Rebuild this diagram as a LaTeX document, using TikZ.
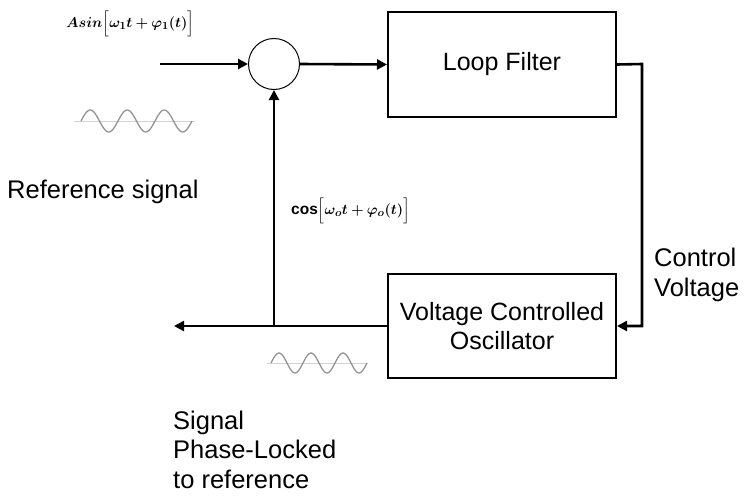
\documentclass[tikz,border=0pt]{standalone}
\usepackage{fontspec}
\setmainfont{Liberation Sans}
\usepackage{amsmath,bm}
\usetikzlibrary{arrows.meta,calc}
\begin{document}
\begin{tikzpicture}[x=1pt,y=-1pt,
  arr/.style={line width=2.6pt,-{Triangle[length=10pt,width=10pt]}},
  blk/.style={draw,line width=2pt,rectangle,minimum width=228pt,minimum height=105pt,inner sep=0pt,
    align=center,font=\fontsize{25}{31}\selectfont},
  sumc/.style={draw,line width=1pt,circle,minimum size=51pt,inner sep=0pt},
  lbl/.style={inner sep=0pt,align=left,font=\fontsize{25.5}{29.5}\selectfont},
  eq/.style={inner sep=0pt,font=\fontsize{15.5}{17}\selectfont},
  wave/.style={gray!85,line width=1.3pt},
  axisl/.style={gray!35,line width=0.9pt}]
\useasboundingbox (0,0) rectangle (750,496);
% blocks
\node[sumc] (sum) at (274,64) {};
\node[blk] (lf) at (502,64.5) {Loop Filter};
\node[blk,minimum height=104pt] (vco) at (502,326) {Voltage Controlled\\[-2pt]Oscillator};
% coordinates
\coordinate (in) at (160,64);
\coordinate (cv) at (642,64);
\coordinate (out) at (174,326);
\coordinate (tap) at (274,326);
% connectors
\draw[arr] (in) -- (sum.west);
\draw[arr] (sum.east) -- (lf.west);
\draw[arr] (lf.east) -- (cv) |- (vco.east);
\draw[arr] (vco.west) -- (out);
\draw[arr] (tap) -- (sum.south);
% waves
\draw[axisl] (74,121) -- (195,121);
\draw[wave] plot[domain=0:3,samples=120,smooth] ({81+37*\x},{121-11*sin(360*\x)});
\draw[axisl] (267,363) -- (368,363);
\draw[wave] plot[domain=0:3,samples=120,smooth] ({271+32*\x},{363-10*sin(360*\x)});
% labels
\node[lbl,anchor=base west] (ref) at (7,198) {Reference signal};
\node[lbl,anchor=base west] (ctl) at (654,296) {Control\\Voltage};
\node[lbl,anchor=base west] (sig) at (173,488) {Signal\\Phase-Locked\\to reference};
\node[eq,anchor=west] (eqin) at (66,24) {$\bm{Asin\Big[\omega_1 t+\varphi_1(t)\Big]}$};
\node[eq,anchor=west] (eqfb) at (291,211) {$\mathbf{cos}\bm{\Big[\omega_o t+\varphi_o(t)\Big]}$};
\end{tikzpicture}
\end{document}
